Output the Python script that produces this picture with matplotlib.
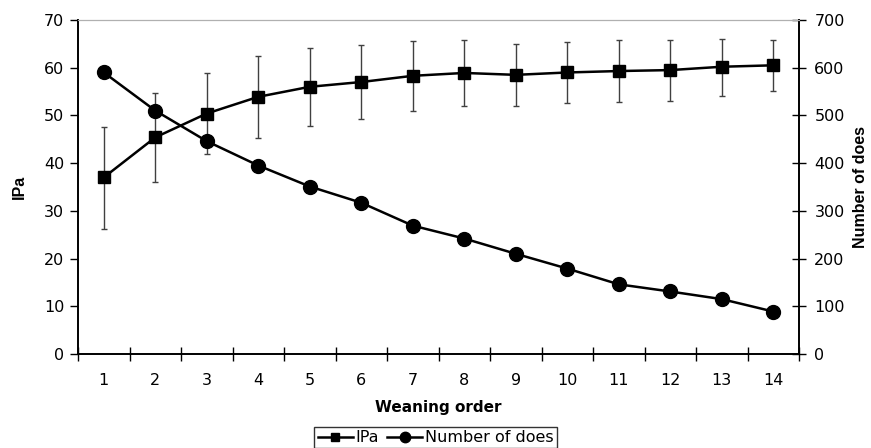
import numpy as np
import matplotlib
matplotlib.use("Agg")
import matplotlib.pyplot as plt

plt.rcParams['font.family'] = ['DejaVu Sans']

order = np.arange(1, 15)
ipa = [37.0, 45.4, 50.4, 53.9, 56.0, 57.0, 58.3, 58.9, 58.5, 59.0, 59.3, 59.5, 60.2, 60.5]
ipa_hi = [47.6, 54.8, 58.8, 62.5, 64.2, 64.7, 65.6, 65.9, 65.0, 65.3, 65.7, 65.9, 66.0, 65.8]
ipa_lo = [26.3, 36.1, 41.9, 45.3, 47.8, 49.3, 50.9, 51.9, 52.0, 52.7, 52.8, 53.0, 54.1, 55.2]
does = [590, 510, 446, 395, 351, 317, 269, 242, 210, 179, 146, 131, 115, 89]

ipa = np.array(ipa)
yerr = [ipa - np.array(ipa_lo), np.array(ipa_hi) - ipa]

fig = plt.figure(figsize=(8.71, 4.48), dpi=100)
ax = fig.add_axes([0.0896, 0.2098, 0.8278, 0.7456])
ax2 = ax.twinx()

ax.errorbar(order, ipa, yerr=yerr, fmt='none', ecolor='#404040', elinewidth=1.0,
            capsize=2.5, capthick=1.0, zorder=2)
l1, = ax.plot(order, ipa, color='black', lw=1.8, marker='s', ms=8.5, zorder=3, label='IPa')
l2, = ax2.plot(order, does, color='black', lw=1.8, marker='o', ms=10, zorder=3,
               label='Number of does')

ax.set_xlim(0.5, 14.5)
ax.set_ylim(0, 70)
ax2.set_ylim(0, 700)
ax.set_yticks(range(0, 71, 10))
ax2.set_yticks(range(0, 701, 100))
ax.set_xticks(order)
ax.set_xticks(np.arange(0.5, 14.6, 1), minor=True)
ax.tick_params(axis='x', which='major', length=0, labelsize=11.5, pad=14)
ax.tick_params(axis='x', which='minor', direction='inout', length=10, width=1)
ax.tick_params(axis='y', direction='out', length=6, width=1, labelsize=11.5, pad=4)
ax2.tick_params(axis='y', direction='inout', length=10, width=1, labelsize=11.5, pad=6)

for a in (ax, ax2):
    a.spines['top'].set_color('#b0b0b0')
    a.spines['left'].set_linewidth(1.2)
    a.spines['bottom'].set_linewidth(1.2)
    a.spines['right'].set_linewidth(1.2)

ax.set_xlabel('Weaning order', fontsize=11, fontweight='bold', labelpad=8)
ax.set_ylabel('IPa', fontsize=11.5, fontweight='bold', labelpad=12, family='Liberation Sans')
ax2.set_ylabel('Number of does', fontsize=11.5, fontweight='bold', labelpad=6,
               family='Liberation Sans')

leg = fig.legend(handles=[l1, l2], loc='upper center', bbox_to_anchor=(0.5, 1 - 427 / 448),
                 ncol=2, fontsize=11.5, frameon=True, fancybox=False, handlelength=2.2,
                 handletextpad=0.15, columnspacing=0.55, borderpad=0.2, borderaxespad=0,
                 markerscale=0.75)
leg.get_frame().set_edgecolor('black')
leg.get_frame().set_linewidth(1)

fig.savefig('out.png', dpi=100)
